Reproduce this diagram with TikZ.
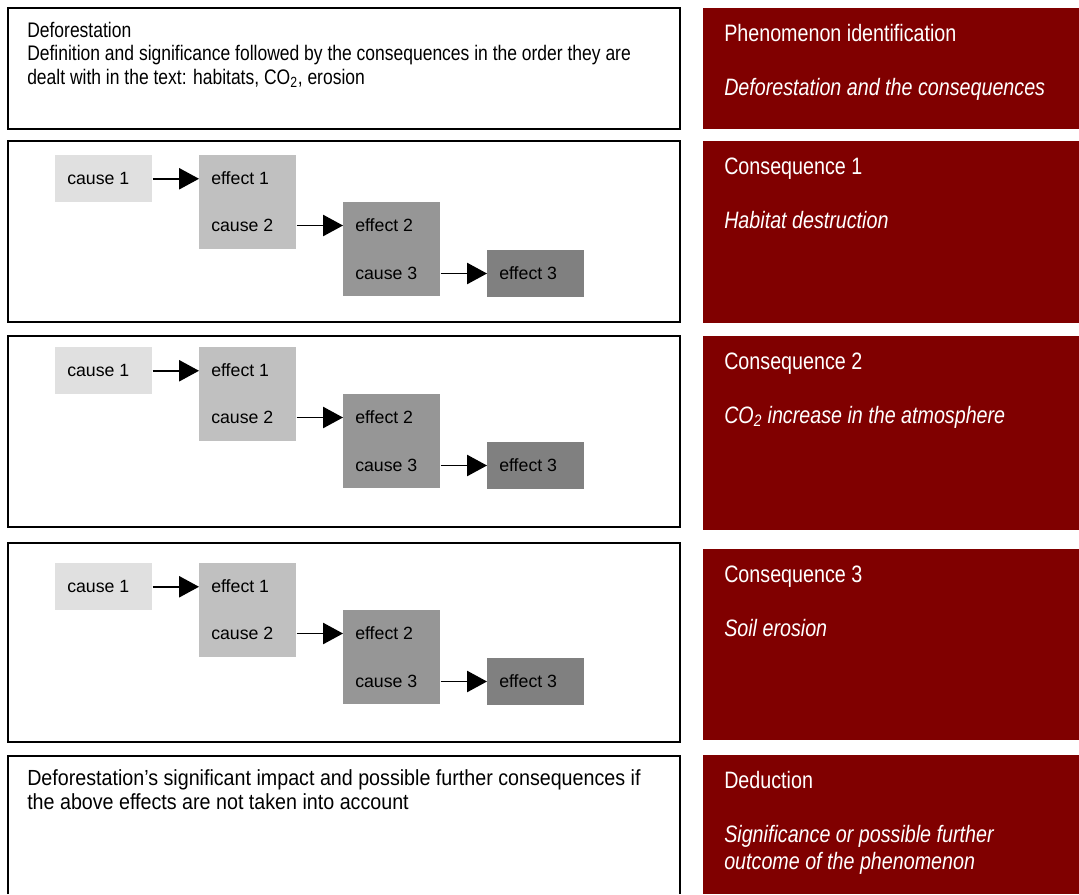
\documentclass[tikz,border=0pt]{standalone}
\usepackage{fontspec}
\setmainfont[FakeStretch=0.83]{Liberation Sans}
\newfontfamily\boxfont{Liberation Sans}
\newfontfamily\widefont[FakeStretch=0.9]{Liberation Sans}
\usetikzlibrary{arrows.meta}

\definecolor{deepred}{RGB}{128,0,0}
\definecolor{greyA}{RGB}{224,224,224}
\definecolor{greyB}{RGB}{192,192,192}
\definecolor{greyC}{RGB}{150,150,150}
\definecolor{greyD}{RGB}{128,128,128}

\tikzset{
  frame/.style={draw=black, line width=1.3pt},
  redbox/.style={fill=deepred},
  txt/.style={anchor=base west, inner sep=0pt, align=left, font=\fontsize{15.8}{17.6}\selectfont},
  rtxt/.style={anchor=base west, inner sep=0pt, align=left, text=white, font=\fontsize{17.8}{20.2}\selectfont},
  ritxt/.style={rtxt, font=\fontsize{17.8}{20.2}\selectfont\itshape},
  gbox/.style={anchor=north west, inner sep=0pt, minimum width=72.75pt},
  gtxt/.style={anchor=west, inner sep=0pt, font=\boxfont\fontsize{13.3}{15}\selectfont},
  arr/.style={line width=1.1pt, -{Triangle[length=15pt,width=16pt]}}
}

\begin{document}
\begin{tikzpicture}[x=0.75pt,y=0.75pt,yscale=-1,xscale=1]
\useasboundingbox (0,0) rectangle (1079,894);

%Shape: Rectangle, left column
\draw[frame] (8,8) rectangle (680,129);
\draw[frame] (8,141) rectangle (680,322);
\draw[frame] (8,336) rectangle (680,527);
\draw[frame] (8,543) rectangle (680,742);
\draw[frame] (8,894) -- (8,756) -- (680,756) -- (680,894);

%Shape: Rectangle, right column
\fill[redbox] (703,8) rectangle (1079,129);
\fill[redbox] (703,141) rectangle (1079,323);
\fill[redbox] (703,336) rectangle (1079,530);
\fill[redbox] (703,549) rectangle (1079,740);
\fill[redbox] (703,755) rectangle (1079,894);

% Text Node (base = last line)
\node[txt] (intro) at (27,84) {Deforestation\\Definition and significance followed by the consequences in the order they are\\dealt with in the text: habitats, CO\textsubscript{2}, erosion};
% Text Node
\node[txt, font=\widefont\fontsize{16.4}{18}\selectfont] (outro) at (27,809) {Deforestation’s significant impact and possible further consequences if\\the above effects are not taken into account};

% Text Node
\node[rtxt] (h0) at (724,41) {Phenomenon identification};
\node[ritxt] (s0) at (724,95) {Deforestation and the consequences};
\node[rtxt] (h1) at (724,174) {Consequence 1};
\node[ritxt] (s1) at (724,228) {Habitat destruction};
\node[rtxt] (h2) at (724,369) {Consequence 2};
\node[ritxt] (s2) at (724,423) {CO\textsubscript{2} increase in the atmosphere};
\node[rtxt] (h3) at (724,582) {Consequence 3};
\node[ritxt] (s3) at (724,636) {Soil erosion};
\node[rtxt] (h4) at (724,788) {Deduction};
\node[ritxt] (s4) at (724,869) {Significance or possible further\\outcome of the phenomenon};

% cause and effect chains
\foreach \dy/\n in {0/a,192/b,408/c}{
  \begin{scope}[shift={(0,\dy)}]
    \node[gbox, fill=greyA, minimum height=35.25pt] (k1\n) at (55,155) {};
    \node[gbox, fill=greyB, minimum height=70.5pt] (k2\n) at (199,155) {};
    \node[gbox, fill=greyC, minimum height=70.5pt] (k3\n) at (343,202) {};
    \node[gbox, fill=greyD, minimum height=35.25pt] (k4\n) at (487,250) {};
    \node[gtxt] (c1\n) at (67,178.5) {cause 1};
    \node[gtxt] (e1\n) at (211,178.5) {effect 1};
    \node[gtxt] (c2\n) at (211,225.5) {cause 2};
    \node[gtxt] (e2\n) at (355,225.5) {effect 2};
    \node[gtxt] (c3\n) at (355,273.5) {cause 3};
    \node[gtxt] (e3\n) at (499,273.5) {effect 3};
    \draw[arr] (k1\n.east) -- (k1\n.east -| k2\n.west);
    \draw[arr] (k2\n.east |- c2\n) -- (k3\n.west |- c2\n);
    \draw[arr] (k3\n.east |- c3\n) -- (k4\n.west |- c3\n);
  \end{scope}
}

\end{tikzpicture}
\end{document}
